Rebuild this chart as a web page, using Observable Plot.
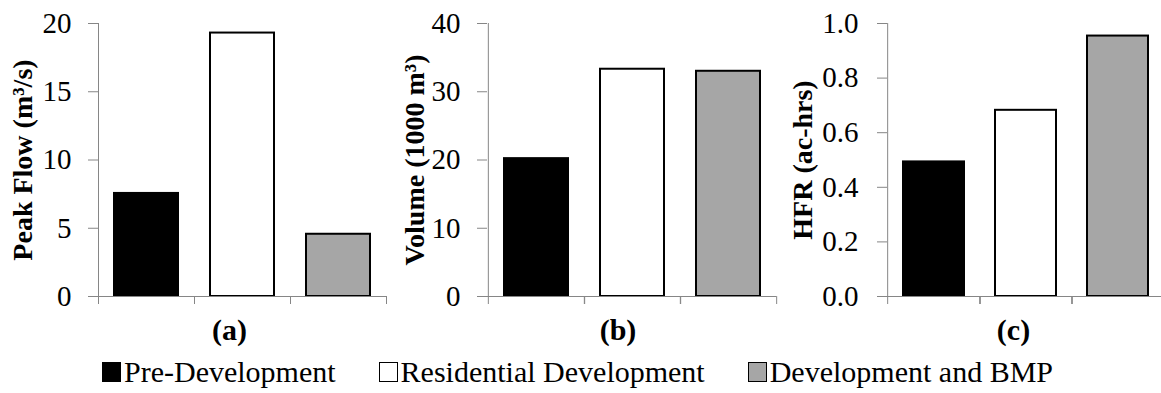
<!DOCTYPE html>
<html>
<head>
<meta charset="utf-8">
<script src="https://cdn.jsdelivr.net/npm/d3@7"></script>
<script src="https://cdn.jsdelivr.net/npm/@observablehq/plot@0.6"></script>
<style>
  html, body { margin: 0; padding: 0; background: #fff; overflow: hidden; }
  body { width: 1161px; height: 393px; position: relative; font-family: "Liberation Serif", "Times New Roman", serif; }
  #panels { position: absolute; left: 0; top: 0; width: 1161px; height: 350px; }
  #panels svg { position: absolute; top: 0; overflow: visible; }
  #legend { position: absolute; left: 102px; top: 350px; height: 43px; display: flex; align-items: center; font-size: 30px; color: #000; white-space: nowrap; }
  .item { display: flex; align-items: center; margin-right: 43px; }
  .swatch { width: 17px; height: 18px; border: 1px solid #000; margin-right: 3px; box-sizing: content-box; }
</style>
</head>
<body>
<div id="panels"></div>
<div id="legend"></div>
<script>
// Scenarios compared in each panel
const scenarios = ["Pre-Development", "Residential Development", "Development and BMP"];
const scenarioFills = ["#000000", "#ffffff", "#a6a6a6"];

// Peak flow (m³/s), runoff volume (1000 m³) and HFR (ac-hrs) per scenario
const peakFlow = [7.55, 19.3, 4.56];
const volume = [20.2, 33.3, 33.0];
const hfr = [0.493, 0.682, 0.954];

// Panel text and y-axis ticks
const panelTitles = ["(a)", "(b)", "(c)"];
const yLabels = ["Peak Flow (m³/s)", "Volume (1000 m³)", "HFR (ac-hrs)"];
const yDomains = [[0, 20], [0, 40], [0, 1]];
const yTicks = [[0, 5, 10, 15, 20], [0, 10, 20, 30, 40], [0, 0.2, 0.4, 0.6, 0.8, 1.0]];
const yFormats = [d3.format("d"), d3.format("d"), d3.format(".1f")];

const series = [peakFlow, volume, hfr];

// Panel placement on the page
const layout = [
  {left: 0,   width: 390, marginLeft: 98,  marginRight: 4, tickPadding: 17, labelDx: -75, titleDx: -13},
  {left: 390, width: 390, marginLeft: 97,  marginRight: 4, tickPadding: 17, labelDx: -72, titleDx: -14},
  {left: 770, width: 395, marginLeft: 117, marginRight: 0, tickPadding: 19, labelDx: -84, titleDx: -13}
];

const axisGray = "#868686";
const H = 350, MT = 23, MB = 54;
const serif = "'Liberation Serif', 'Times New Roman', serif";

const panels = document.getElementById("panels");

series.forEach((values, p) => {
  const L = layout[p];
  const rows = scenarios.map((s, i) => ({scenario: s, value: values[i], fill: scenarioFills[i]}));
  const step = (L.width - L.marginLeft - L.marginRight) / scenarios.length;

  const chart = Plot.plot({
    width: L.width,
    height: H,
    marginTop: MT,
    marginBottom: MB,
    marginLeft: L.marginLeft,
    marginRight: L.marginRight,
    style: {fontFamily: serif, fontSize: "29px", color: "#000", background: "transparent", overflow: "visible"},
    x: {type: "band", domain: scenarios, paddingInner: 1 / 3, paddingOuter: 1 / 6, axis: null},
    y: {domain: yDomains[p], axis: null},
    marks: [
      // vertical axis line at the left edge of the first category
      Plot.ruleX(scenarios.slice(0, 1), {x: d => d, dx: -step / 2, stroke: axisGray, strokeWidth: 1}),
      // category boundary ticks below the baseline
      Plot.axisX({anchor: "bottom", tickSize: 8, tickFormat: () => "", label: null, stroke: axisGray, dx: -step / 2}),
      Plot.axisX({anchor: "bottom", tickSize: 8, tickFormat: () => "", label: null, stroke: axisGray, dx: step / 2}),
      Plot.axisY({ticks: yTicks[p], tickSize: 10, tickPadding: L.tickPadding, tickFormat: yFormats[p],
                  fontSize: 29, fontFamily: serif, label: null, stroke: axisGray, fill: "#000"}),
      Plot.barY(rows, {x: "scenario", y: "value", fill: "fill", stroke: "#000", strokeWidth: 2}),
      Plot.ruleY([0], {stroke: axisGray, strokeWidth: 1, insetLeft: -10}),
      Plot.text([yLabels[p]], {text: d => d, frameAnchor: "left", rotate: -90, dx: L.labelDx,
                 textAnchor: "middle", lineAnchor: "middle", fontSize: 28, fontWeight: "bold", fontFamily: serif, fill: "#000"}),
      Plot.text([panelTitles[p]], {text: d => d, frameAnchor: "bottom", dx: L.titleDx, dy: 34,
                 textAnchor: "middle", lineAnchor: "middle", fontSize: 30, fontWeight: "bold", fontFamily: serif, fill: "#000"})
    ]
  });
  chart.style.left = L.left + "px";
  panels.appendChild(chart);
});

// Legend below the panels
const legend = document.getElementById("legend");
scenarios.forEach((s, i) => {
  const item = document.createElement("div");
  item.className = "item";
  const sw = document.createElement("span");
  sw.className = "swatch";
  sw.style.background = scenarioFills[i];
  const label = document.createElement("span");
  label.textContent = s;
  item.appendChild(sw);
  item.appendChild(label);
  legend.appendChild(item);
});
</script>
</body>
</html>
